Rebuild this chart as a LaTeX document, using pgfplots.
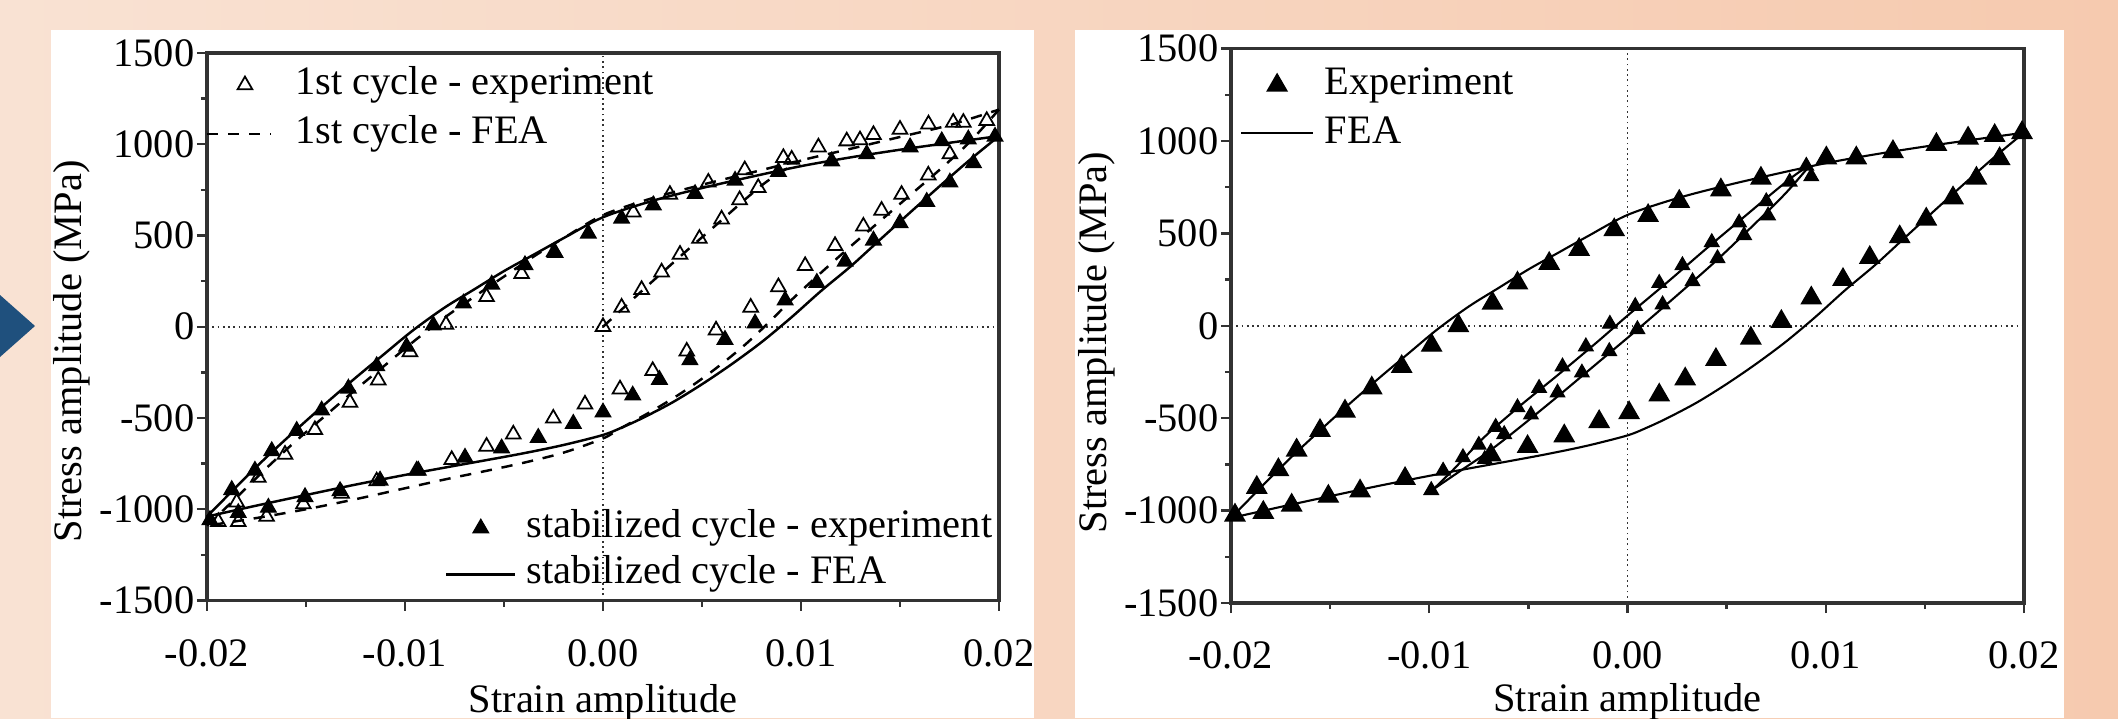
\documentclass[border=0pt]{standalone}
\usepackage{fontspec}
\setmainfont{Liberation Serif}
\usepackage{pgfplots}
\pgfplotsset{compat=1.18}

\definecolor{bgleft}{RGB}{249,226,211}
\definecolor{bgright}{RGB}{246,202,175}
\definecolor{arrowblue}{RGB}{31,80,125}
\definecolor{framegray}{RGB}{50,50,50}

\newcommand{\figfont}{\fontsize{11.5}{13.8}\selectfont}

\pgfplotsset{
  loopbase/.style={
    scale only axis,
    xmin=-0.02, xmax=0.02, ymin=-1500, ymax=1500,
    clip=false,
  },
  loopframe/.style={
    loopbase,
    axis line style={framegray, line width=0.9pt},
    tick style={framegray, line width=0.7pt},
    tick align=outside, tick pos=left,
    major tick length=0.1cm, minor tick length=0.06cm,
    scaled x ticks=false,
    xtick={-0.02,-0.01,0,0.01,0.02},
    xticklabels={-0.02,-0.01,0.00,0.01,0.02},
    ytick={-1500,-1000,-500,0,500,1000,1500},
    yticklabels={-1500,-1000,-500,0,500,1000,1500},
    minor x tick num=1, minor y tick num=1,
    tick label style={font=\figfont, inner sep=0pt},
    yticklabel style={anchor=east, xshift=-0.02cm},
    xticklabel style={anchor=north, yshift=-0.28cm},
    label style={font=\figfont},
    xlabel={Strain amplitude},
    ylabel={Stress amplitude (MPa)},
  },
  zeroline/.style={black!80, line width=0.5pt, densely dotted, forget plot},
  fea/.style={black, line width=0.7pt, smooth, no marks},
  firstfea/.style={black, line width=0.7pt, dash pattern=on 3.2pt off 2.8pt, smooth, no marks},
  legbase/.style={
    legend cell align=left,
    legend style={draw=none, fill=none, font=\figfont,
      nodes={inner sep=0pt, text height=8pt, text depth=2.5pt}},
  },
  markA/.style={legend image code/.code={\path (0cm,0cm) (0.64cm,0cm); \draw[##1] plot coordinates {(0.38cm,0cm)};}},
  lineA/.style={legend image code/.code={\draw[##1] (0cm,0cm) -- (0.64cm,0cm);}},
  markB/.style={legend image code/.code={\path (0cm,0cm) (0.69cm,0cm); \draw[##1] plot coordinates {(0.345cm,0cm)};}},
  lineB/.style={legend image code/.code={\draw[##1] (0cm,0cm) -- (0.69cm,0cm);}},
  markC/.style={legend image code/.code={\path (0cm,0cm) (0.72cm,0cm); \draw[##1] plot coordinates {(0.36cm,0cm)};}},
  lineC/.style={legend image code/.code={\draw[##1] (0cm,0cm) -- (0.72cm,0cm);}},
}

\begin{document}
\begin{tikzpicture}
\path[use as bounding box] (0,0) rectangle (21.18,7.18);
\clip (0,0) rectangle (21.18,7.18);
\shade[left color=bgleft, right color=bgright] (0,0) rectangle (21.18,7.18);
\fill[white] (0.51,0) rectangle (10.34,6.88);
\fill[white] (10.75,0) rectangle (20.64,6.88);
\fill[arrowblue] (0,4.23) -- (0.35,3.92) -- (0,3.61) -- cycle;

% ---------------- left panel: first cycle (framed axis) ----------------
\begin{axis}[
  loopframe, legbase,
  at={(2.07cm,1.175cm)}, anchor=south west,
  width=7.92cm, height=5.475cm,
  xlabel style={at={(axis description cs:0.5,-0.2037)}, anchor=base},
  ylabel style={at={(axis description cs:-0.171,0.455)}, anchor=center},
  legend style={at={(0,1)}, anchor=north west, xshift=-0.125cm, yshift=-0.058cm,
    row sep=3.4pt, /tikz/every odd column/.append style={column sep=0.233cm}},
]
\addplot[zeroline] coordinates {(-0.02,0) (0.02,0)};
\addplot[zeroline] coordinates {(0,-1500) (0,1500)};

% 1st cycle - experiment (open triangles)
\addplot[only marks, mark=triangle, mark size=2.4pt, mark options={black, line width=0.5pt}, markA]
coordinates {
  (0,0) (0.00094,106) (0.00195,203) (0.00296,299) (0.00389,396) (0.00487,483)
  (0.00599,589) (0.00690,695) (0.00784,762)
  (0.00716,859) (0.00911,926) (0.00953,917) (0.01088,984) (0.01231,1017) (0.01298,1023)
  (0.01366,1052) (0.01500,1081) (0.01644,1110) (0.01769,1119) (0.01820,1119) (0.01938,1129)
  (0.01752,946) (0.01643,830) (0.01508,724) (0.01407,637) (0.01315,550) (0.01172,444)
  (0.01021,334) (0.00886,218) (0.00746,106) (0.00571,-19) (0.00423,-135) (0.00251,-241)
  (0.00086,-342) (-0.00091,-425) (-0.00251,-502) (-0.00453,-589) (-0.00588,-656)
  (-0.00764,-729) (-0.00941,-788) (-0.01143,-846) (-0.01320,-914) (-0.01513,-972)
  (-0.01699,-1040) (-0.01842,-1069) (-0.01943,-1069)
  (-0.01850,-962) (-0.01741,-826) (-0.01606,-700) (-0.01455,-565) (-0.01278,-415)
  (-0.01135,-293) (-0.00975,-138) (-0.00793,12) (-0.00588,164) (-0.00411,290)
  (-0.00242,405) (0.00153,627) (0.00338,724) (0.00532,791)
};
\addlegendentry{1st cycle - experiment}

% 1st cycle - FEA (dashed): reloading branch
\addplot[firstfea, lineA] coordinates {
  (-0.0200,-1090) (-0.0185,-935) (-0.0170,-775) (-0.0155,-625) (-0.0140,-485)
  (-0.0125,-345) (-0.0110,-210) (-0.0095,-75) (-0.0080,50) (-0.0065,165)
  (-0.0050,275) (-0.0035,385) (-0.0020,485) (0.0000,612) (0.0025,705)
  (0.0050,778) (0.0075,845) (0.0100,912) (0.0125,975) (0.0150,1040)
  (0.0175,1105) (0.0200,1190)
};
\addlegendentry{1st cycle - FEA}
% initial loading
\addplot[firstfea, forget plot] coordinates {
  (0,0) (0.002,200) (0.004,395) (0.006,585) (0.0072,700) (0.0082,790) (0.0090,848) (0.0100,912)
};
% unloading
\addplot[firstfea, forget plot] coordinates {
  (0.0200,1190) (0.0185,1010) (0.0170,860) (0.0155,720) (0.0140,580) (0.0125,440)
  (0.0110,295) (0.0095,145) (0.0082,5) (0.0070,-115) (0.0055,-245) (0.0040,-360)
  (0.0025,-460) (0.0010,-550) (0.0000,-612) (-0.0020,-690) (-0.0040,-745)
  (-0.0060,-792) (-0.0080,-837) (-0.0100,-885) (-0.0125,-945) (-0.0150,-1000)
  (-0.0175,-1048) (-0.0200,-1090)
};
\end{axis}

% ---------------- left panel: stabilized cycle (overlay) ----------------
\begin{axis}[
  loopbase, legbase, hide axis,
  at={(2.07cm,1.175cm)}, anchor=south west,
  width=7.92cm, height=5.475cm,
  legend style={at={(1,0)}, anchor=south east, xshift=0.045cm, yshift=0cm,
    row sep=2.6pt, /tikz/every odd column/.append style={column sep=0.1cm}},
]
\addplot[only marks, mark=triangle*, mark size=2.5pt, black, markB]
coordinates {
  (-0.01985,-1059) (-0.01875,-894) (-0.01758,-788) (-0.01673,-681) (-0.01547,-570)
  (-0.01421,-458) (-0.01286,-338) (-0.01143,-215) (-0.00992,-109) (-0.00857,8)
  (-0.00705,128) (-0.00562,232) (-0.00394,338) (-0.00246,411) (-0.00074,511)
  (0.00094,593) (0.00254,666) (0.00465,728) (0.00667,801) (0.00886,849)
  (0.01155,907) (0.01332,946) (0.01551,984) (0.01711,1017) (0.01845,1027) (0.01980,1042)
  (0.01871,897) (0.01752,791) (0.01635,685) (0.01500,569) (0.01366,473) (0.01223,357)
  (0.01080,241) (0.00920,145) (0.00768,19) (0.00616,-71) (0.00439,-183) (0.00285,-290)
  (0.00150,-376) (0.00000,-469) (-0.00150,-531) (-0.00327,-608) (-0.00512,-666)
  (-0.00697,-717) (-0.00933,-788) (-0.01126,-842) (-0.01328,-900) (-0.01505,-933)
  (-0.01690,-991) (-0.01842,-1020)
};
\addlegendentry{stabilized cycle - experiment}
\addplot[fea, lineB] coordinates {
  (-0.0200,-1040) (-0.0185,-875) (-0.0170,-715) (-0.0155,-565) (-0.0140,-420)
  (-0.0125,-280) (-0.0110,-145) (-0.0096,-20) (-0.0080,105) (-0.0065,205)
  (-0.0050,305) (-0.0035,395) (-0.0020,485) (0.0000,600) (0.0025,690)
  (0.0050,760) (0.0075,822) (0.0100,880) (0.0125,928) (0.0150,970)
  (0.0175,1008) (0.0200,1045)
};
\addlegendentry{stabilized cycle - FEA}
\addplot[fea, forget plot] coordinates {
  (0.0200,1045) (0.0185,912) (0.0170,770) (0.0155,625) (0.0140,478) (0.0125,330)
  (0.0110,195) (0.0095,50) (0.0080,-85) (0.0065,-205) (0.0050,-315) (0.0035,-415)
  (0.0020,-500) (0.0010,-550) (0.0000,-593) (-0.0020,-648) (-0.0040,-693)
  (-0.0060,-733) (-0.0080,-772) (-0.0100,-812) (-0.0125,-865) (-0.0150,-922)
  (-0.0175,-980) (-0.0200,-1040)
};
\end{axis}

% ---------------- right panel ----------------
\begin{axis}[
  loopframe, legbase,
  at={(12.31cm,1.15cm)}, anchor=south west,
  width=7.93cm, height=5.544cm,
  xlabel style={at={(axis description cs:0.5,-0.1966)}, anchor=base},
  ylabel style={at={(axis description cs:-0.169,0.47)}, anchor=center},
  legend style={at={(0,1)}, anchor=north west, xshift=-0.022cm, yshift=-0.105cm,
    row sep=3.2pt, /tikz/every odd column/.append style={column sep=0.107cm}},
]
\addplot[zeroline] coordinates {(-0.02,0) (0.02,0)};
\addplot[zeroline] coordinates {(0,-1500) (0,1500)};

\addplot[only marks, mark=triangle*, mark size=3.2pt, black, markC]
coordinates {
  (-0.0198,-1025) (-0.0187,-875) (-0.01761,-779) (-0.01669,-673) (-0.01551,-567)
  (-0.01425,-462) (-0.0129,-337) (-0.01139,-221) (-0.00988,-106) (-0.00853,0)
  (-0.00681,122) (-0.00555,231) (-0.00395,337) (-0.00244,413) (-0.00067,519)
  (0.00104,596) (0.00261,673) (0.00471,735) (0.00673,798) (0.01003,908)
  (0.01154,908) (0.01339,942) (0.01558,981) (0.01718,1015) (0.01852,1029) (0.0199,1045)
  (0.01877,904) (0.0176,798) (0.01642,692) (0.01507,577) (0.01373,481) (0.01222,369)
  (0.01087,250) (0.00927,150) (0.00776,23) (0.00622,-67) (0.00446,-183) (0.00291,-288)
  (0.0016,-375) (0.00008,-471) (-0.00143,-519) (-0.00319,-596) (-0.00504,-654)
  (-0.00689,-700) (-0.01122,-827) (-0.01349,-894) (-0.01509,-923) (-0.01694,-971)
  (-0.01837,-1010)
};
\addlegendentry{Experiment}
\addplot[fea, line width=0.6pt, lineC] coordinates {
  (-0.0200,-1040) (-0.0185,-875) (-0.0170,-715) (-0.0155,-565) (-0.0140,-420)
  (-0.0125,-280) (-0.0110,-145) (-0.0096,-20) (-0.0080,105) (-0.0065,205)
  (-0.0050,305) (-0.0035,395) (-0.0020,485) (0.0000,600) (0.0025,690)
  (0.0050,760) (0.0075,822) (0.0100,880) (0.0125,928) (0.0150,970)
  (0.0175,1008) (0.0200,1045)
};
\addlegendentry{FEA}
\addplot[fea, line width=0.6pt, forget plot] coordinates {
  (0.0200,1045) (0.0185,912) (0.0170,770) (0.0155,625) (0.0140,478) (0.0125,330)
  (0.0110,195) (0.0095,50) (0.0080,-85) (0.0065,-205) (0.0050,-315) (0.0035,-415)
  (0.0020,-500) (0.0010,-550) (0.0000,-593) (-0.0020,-648) (-0.0040,-693)
  (-0.0060,-733) (-0.0080,-772) (-0.0100,-812) (-0.0125,-865) (-0.0150,-922)
  (-0.0175,-980) (-0.0200,-1040)
};
% inner loop FEA
\addplot[fea, line width=0.6pt, forget plot] coordinates {
  (-0.0098,-885) (-0.0088,-780) (-0.0072,-600) (-0.0055,-440) (-0.0035,-265)
  (-0.0015,-85) (0.0000,55) (0.0020,235) (0.0040,420) (0.0060,600)
  (0.0075,735) (0.0085,820) (0.0092,868)
};
\addplot[fea, line width=0.6pt, forget plot] coordinates {
  (0.0092,868) (0.0080,720) (0.0065,560) (0.0045,355) (0.0025,165) (0.0005,-20)
  (-0.0015,-200) (-0.0035,-380) (-0.0055,-555) (-0.0070,-680) (-0.0085,-790) (-0.0098,-885)
};
% inner loop experiment
\addplot[only marks, mark=triangle*, mark size=2.3pt, black, forget plot] coordinates {
  (-0.0093,-785) (-0.0083,-712) (-0.0075,-645) (-0.00665,-548) (-0.00555,-442)
  (-0.00446,-337) (-0.00328,-221) (-0.0021,-112) (-0.00089,10) (0.00039,106)
  (0.0016,231) (0.00277,327) (0.00425,452) (0.00563,558) (0.007,673) (0.00818,779)
  (0.00902,865)
  (-0.0099,-890) (-0.0072,-722) (-0.00622,-587) (-0.00487,-481) (-0.00353,-362)
  (-0.0023,-254) (-0.00092,-138) (0.0005,-19) (0.00177,115) (0.00328,240)
  (0.00454,365) (0.00588,490) (0.00709,596) (0.00927,808)
};
\end{axis}
\end{tikzpicture}
\end{document}
